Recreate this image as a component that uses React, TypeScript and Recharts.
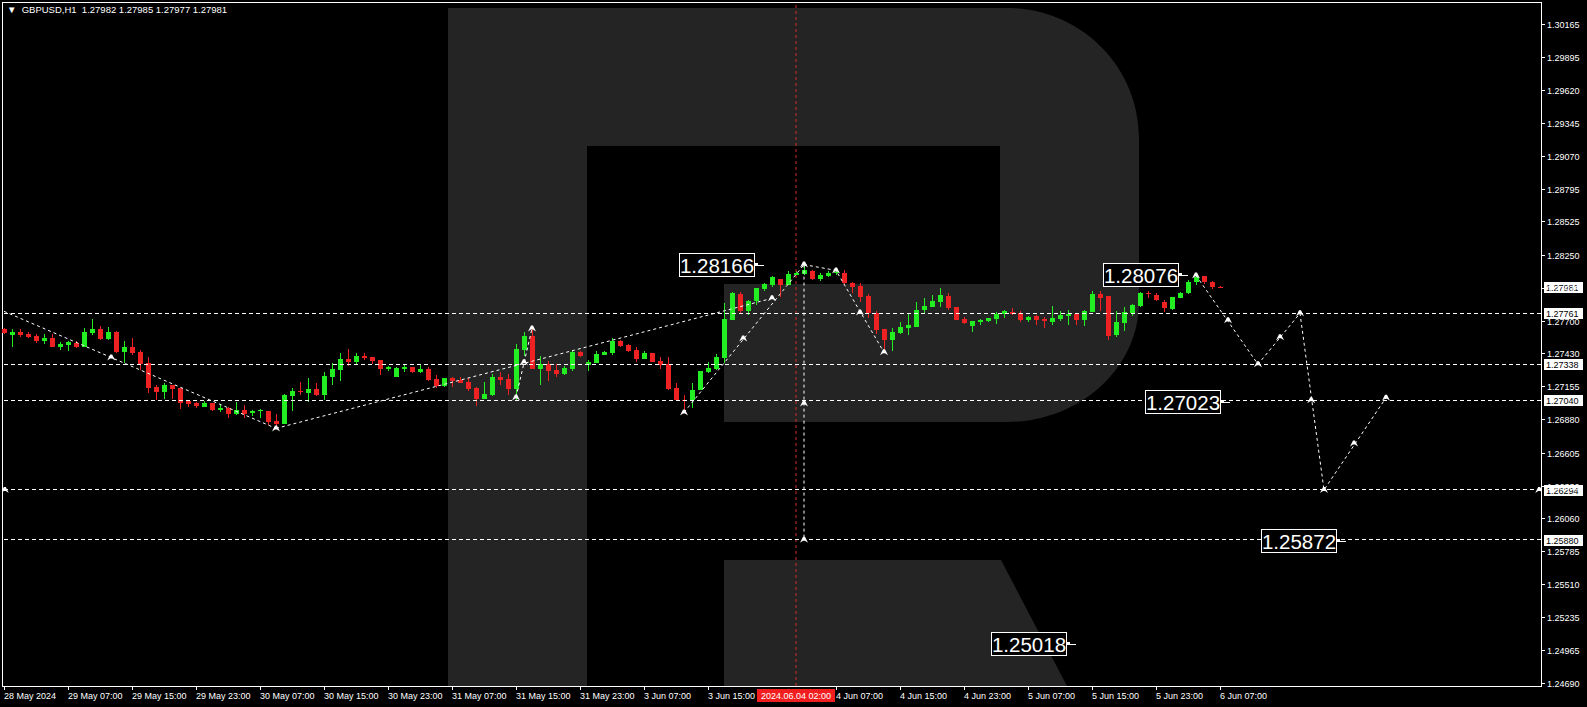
import React from 'react';
import {
    ComposedChart,
    Bar,
    Line,
    Scatter,
    XAxis,
    YAxis,
    ReferenceLine,
    ReferenceDot,
    ReferenceArea
} from 'recharts';

// GBPUSD H1, 28 May 23:00 .. 6 Jun 07:00 (index 0 = 28 May 23:00)
const opens = [
    1.27628, 1.27578, 1.27603, 1.27586, 1.27570, 1.27528, 1.27553, 1.27478, 1.27495, 1.27512,
    1.27478, 1.27595, 1.27628, 1.27545, 1.27603, 1.27437, 1.27478, 1.27437, 1.27346, 1.27146,
    1.27105, 1.27163, 1.27138, 1.27030, 1.27013, 1.26980, 1.27013, 1.26955, 1.26971, 1.26922,
    1.26955, 1.26930, 1.26947, 1.26947, 1.26863, 1.26838, 1.27071, 1.27113, 1.27096, 1.27129,
    1.27080, 1.27229, 1.27287, 1.27379, 1.27354, 1.27404, 1.27395, 1.27370, 1.27296, 1.27229,
    1.27296, 1.27312, 1.27271, 1.27296, 1.27213, 1.27154, 1.27221, 1.27204, 1.27188, 1.27138,
    1.27046, 1.27080, 1.27229, 1.27213, 1.27129, 1.27454, 1.27570, 1.27296, 1.27337, 1.27287,
    1.27254, 1.27296, 1.27437, 1.27329, 1.27346, 1.27412, 1.27429, 1.27528, 1.27495, 1.27454,
    1.27379, 1.27429, 1.27362, 1.27337, 1.27138, 1.27038, 1.27038, 1.27121, 1.27271, 1.27296,
    1.27387, 1.27703, 1.27919, 1.27778, 1.27861, 1.27960, 1.27994, 1.28044, 1.27994, 1.28077,
    1.28085, 1.28110, 1.28044, 1.28068, 1.28093, 1.28093, 1.28010, 1.27985, 1.27902, 1.27761,
    1.27628, 1.27537, 1.27595, 1.27636, 1.27645, 1.27786, 1.27811, 1.27852, 1.27902, 1.27811,
    1.27711, 1.27653, 1.27686, 1.27695, 1.27711, 1.27753, 1.27769, 1.27761, 1.27703, 1.27736,
    1.27711, 1.27686, 1.27711, 1.27736, 1.27753, 1.27703, 1.27769, 1.27919, 1.27902, 1.27578,
    1.27678, 1.27761, 1.27819, 1.27927, 1.27911, 1.27852, 1.27794, 1.27886, 1.27927, 1.28019,
    1.28068, 1.28019, 1.27982
];
const highs = [
    1.27636, 1.27628, 1.27628, 1.27603, 1.27586, 1.27586, 1.27586, 1.27520, 1.27528, 1.27528,
    1.27636, 1.27711, 1.27653, 1.27645, 1.27611, 1.27528, 1.27553, 1.27454, 1.27395, 1.27163,
    1.27179, 1.27163, 1.27138, 1.27038, 1.27021, 1.27030, 1.27013, 1.27005, 1.26980, 1.27021,
    1.26996, 1.26955, 1.26963, 1.26947, 1.26922, 1.27088, 1.27138, 1.27188, 1.27221, 1.27179,
    1.27271, 1.27346, 1.27429, 1.27462, 1.27429, 1.27429, 1.27395, 1.27370, 1.27321, 1.27312,
    1.27329, 1.27312, 1.27329, 1.27312, 1.27246, 1.27221, 1.27229, 1.27229, 1.27221, 1.27146,
    1.27188, 1.27254, 1.27271, 1.27254, 1.27503, 1.27603, 1.27653, 1.27404, 1.27362, 1.27337,
    1.27321, 1.27454, 1.27445, 1.27370, 1.27445, 1.27445, 1.27553, 1.27537, 1.27503, 1.27478,
    1.27445, 1.27429, 1.27395, 1.27395, 1.27179, 1.27080, 1.27179, 1.27279, 1.27354, 1.27420,
    1.27844, 1.27936, 1.27936, 1.27869, 1.27969, 1.28010, 1.28068, 1.28044, 1.28110, 1.28110,
    1.28166, 1.28118, 1.28093, 1.28110, 1.28118, 1.28118, 1.28019, 1.28010, 1.27919, 1.27778,
    1.27628, 1.27636, 1.27686, 1.27753, 1.27852, 1.27886, 1.27911, 1.27969, 1.27927, 1.27811,
    1.27728, 1.27695, 1.27711, 1.27719, 1.27769, 1.27786, 1.27803, 1.27778, 1.27736, 1.27744,
    1.27728, 1.27819, 1.27778, 1.27786, 1.27753, 1.27786, 1.27944, 1.27944, 1.27902, 1.27778,
    1.27811, 1.27836, 1.27936, 1.27944, 1.27927, 1.27869, 1.27894, 1.27936, 1.28035, 1.28076,
    1.28072, 1.28027, 1.27985
];
const lows = [
    1.27586, 1.27478, 1.27562, 1.27553, 1.27512, 1.27503, 1.27478, 1.27454, 1.27445, 1.27470,
    1.27478, 1.27578, 1.27537, 1.27537, 1.27429, 1.27346, 1.27412, 1.27287, 1.27096, 1.27038,
    1.27046, 1.27046, 1.26963, 1.26980, 1.26971, 1.26980, 1.26947, 1.26938, 1.26888, 1.26913,
    1.26888, 1.26905, 1.26888, 1.26830, 1.26805, 1.26838, 1.26947, 1.27080, 1.27021, 1.27071,
    1.27038, 1.27163, 1.27196, 1.27321, 1.27337, 1.27370, 1.27337, 1.27246, 1.27279, 1.27229,
    1.27271, 1.27262, 1.27262, 1.27196, 1.27138, 1.27146, 1.27146, 1.27179, 1.27113, 1.26988,
    1.27046, 1.27071, 1.27163, 1.27080, 1.27038, 1.27404, 1.27296, 1.27163, 1.27196, 1.27229,
    1.27246, 1.27279, 1.27395, 1.27279, 1.27346, 1.27412, 1.27412, 1.27478, 1.27437, 1.27354,
    1.27379, 1.27354, 1.27296, 1.27121, 1.27030, 1.26955, 1.26971, 1.27121, 1.27262, 1.27287,
    1.27346, 1.27703, 1.27761, 1.27744, 1.27827, 1.27944, 1.27977, 1.27894, 1.27994, 1.28077,
    1.28085, 1.28035, 1.28027, 1.28060, 1.28077, 1.28002, 1.27927, 1.27852, 1.27719, 1.27586,
    1.27437, 1.27445, 1.27586, 1.27578, 1.27645, 1.27753, 1.27811, 1.27811, 1.27786, 1.27703,
    1.27670, 1.27603, 1.27661, 1.27686, 1.27670, 1.27719, 1.27744, 1.27686, 1.27686, 1.27661,
    1.27636, 1.27661, 1.27695, 1.27661, 1.27661, 1.27653, 1.27769, 1.27778, 1.27537, 1.27562,
    1.27611, 1.27736, 1.27811, 1.27886, 1.27861, 1.27769, 1.27786, 1.27886, 1.27919, 1.27994,
    1.28002, 1.27960, 1.27977
];
const closes = [
    1.27595, 1.27603, 1.27578, 1.27562, 1.27528, 1.27553, 1.27478, 1.27503, 1.27520, 1.27478,
    1.27603, 1.27628, 1.27545, 1.27603, 1.27437, 1.27478, 1.27429, 1.27337, 1.27138, 1.27105,
    1.27163, 1.27129, 1.27013, 1.27005, 1.26988, 1.27013, 1.26955, 1.26971, 1.26922, 1.26955,
    1.26922, 1.26947, 1.26955, 1.26855, 1.26838, 1.27080, 1.27113, 1.27105, 1.27129, 1.27080,
    1.27237, 1.27296, 1.27379, 1.27354, 1.27404, 1.27387, 1.27362, 1.27296, 1.27312, 1.27304,
    1.27312, 1.27271, 1.27296, 1.27204, 1.27154, 1.27221, 1.27196, 1.27179, 1.27129, 1.27046,
    1.27088, 1.27229, 1.27204, 1.27129, 1.27462, 1.27570, 1.27296, 1.27337, 1.27279, 1.27254,
    1.27304, 1.27437, 1.27404, 1.27354, 1.27420, 1.27437, 1.27528, 1.27487, 1.27445, 1.27379,
    1.27429, 1.27354, 1.27329, 1.27129, 1.27038, 1.27030, 1.27121, 1.27279, 1.27304, 1.27395,
    1.27711, 1.27927, 1.27778, 1.27861, 1.27969, 1.28002, 1.28060, 1.27994, 1.28085, 1.28093,
    1.28118, 1.28044, 1.28077, 1.28093, 1.28102, 1.28010, 1.27977, 1.27894, 1.27761, 1.27620,
    1.27537, 1.27603, 1.27645, 1.27661, 1.27786, 1.27819, 1.27861, 1.27911, 1.27803, 1.27703,
    1.27678, 1.27695, 1.27703, 1.27719, 1.27753, 1.27778, 1.27753, 1.27703, 1.27728, 1.27703,
    1.27695, 1.27719, 1.27744, 1.27753, 1.27703, 1.27778, 1.27919, 1.27886, 1.27570, 1.27686,
    1.27769, 1.27827, 1.27927, 1.27919, 1.27869, 1.27803, 1.27894, 1.27927, 1.28019, 1.28060,
    1.28019, 1.27977, 1.27981
];

// x axis: bar index of each label
const xTickIdx = [0, 8, 16, 24, 32, 40, 48, 56, 64, 72, 80, 88, 104, 112, 120, 128, 136, 144, 152];
const xTickLabels = [
    '28 May 2024', '29 May 07:00', '29 May 15:00', '29 May 23:00', '30 May 07:00', '30 May 15:00',
    '30 May 23:00', '31 May 07:00', '31 May 15:00', '31 May 23:00', '3 Jun 07:00', '3 Jun 15:00',
    '4 Jun 07:00', '4 Jun 15:00', '4 Jun 23:00', '5 Jun 07:00', '5 Jun 15:00', '5 Jun 23:00', '6 Jun 07:00'
];
const yTicks = [
    1.30165, 1.29895, 1.29620, 1.29345, 1.29070, 1.28795, 1.28525, 1.28250, 1.27975, 1.27700, 1.27430,
    1.27155, 1.26880, 1.26605, 1.26330, 1.26060, 1.25785, 1.25510, 1.25235, 1.24965, 1.24690
];

// horizontal levels and last price
const levels = [1.27761, 1.27338, 1.27040, 1.26294, 1.25880];
const lastPrice = 1.27981;
const crossIdx = 99;
const crossLabel = '2024.06.04 02:00';

// analyst's wave lines (bar index, price)
const waveDown = [{ i: 0, p: 1.27778 }, { i: 34, p: 1.26805 }];
const waveUp = [{ i: 34, p: 1.26805 }, { i: 96, p: 1.27886 }];
const waveSpike = [{ i: 64, p: 1.27063 }, { i: 66, p: 1.27636 }];
const waveRally = [{ i: 85, p: 1.26938 }, { i: 100, p: 1.28166 }];
const waveTarget = [{ i: 100, p: 1.28166 }, { i: 100, p: 1.25880 }];
const waveDrop = [{ i: 100, p: 1.28166 }, { i: 104, p: 1.28118 }, { i: 110, p: 1.27437 }];
const forecast = [
    { i: 149, p: 1.28076 }, { i: 156.75, p: 1.27338 }, { i: 162, p: 1.27761 },
    { i: 165, p: 1.26294 }, { i: 172.75, p: 1.27060 }
];
const arrows = [
    { i: 13.4, p: 1.27395 }, { i: 34, p: 1.26805 }, { i: 64, p: 1.27063 }, { i: 65, p: 1.27354 },
    { i: 66, p: 1.27636 }, { i: 85, p: 1.26938 }, { i: 92.4, p: 1.27553 }, { i: 96, p: 1.27886 },
    { i: 100, p: 1.28166 }, { i: 104, p: 1.28118 }, { i: 107, p: 1.27769 }, { i: 110, p: 1.27437 },
    { i: 100, p: 1.27013 }, { i: 100, p: 1.25880 }, { i: 149, p: 1.28076 }, { i: 153, p: 1.27703 },
    { i: 156.75, p: 1.27338 }, { i: 159.5, p: 1.27562 }, { i: 162, p: 1.27761 }, { i: 163.4, p: 1.27040 },
    { i: 165, p: 1.26294 }, { i: 168.75, p: 1.26680 }, { i: 172.75, p: 1.27060 },
    { i: 0.1, p: 1.26294 }, { i: 191.9, p: 1.26294 }
];
const tags = [
    { i: 95, p: 1.28166 }, { i: 148, p: 1.28076 }, { i: 153.25, p: 1.27023 },
    { i: 167.75, p: 1.25872 }, { i: 134, p: 1.25018 }
];

const X_MIN = -0.25;
const X_MAX = 192.125;
const Y_MIN = 1.246651;
const Y_MAX = 1.303478;

const GREEN = '#22ee22';
const RED = '#ee2222';
const FONT = '"Liberation Sans", Arial, sans-serif';

const candles = opens.map((o, i) => ({
    i,
    o,
    h: highs[i],
    l: lows[i],
    c: closes[i],
    range: [lows[i], highs[i]]
}));

const Candle = (props: any) => {
    const { x, y, width, height, payload } = props;
    if (x == null || y == null) return null;
    const cx = Math.round(x + width / 2);
    const top = Math.min(y, y + height);
    const span = Math.abs(height);
    const { o, h, l, c } = payload;
    const k = h - l > 0 ? span / (h - l) : 0;
    const yO = top + (h - o) * k;
    const yC = top + (h - c) * k;
    const col = c >= o ? GREEN : RED;
    const bTop = Math.round(Math.min(yO, yC));
    const bH = Math.max(1, Math.round(Math.abs(yC - yO)));
    return (
        <g shapeRendering="crispEdges">
            <rect x={cx} y={Math.round(top)} width={1} height={Math.max(1, Math.round(span))} fill={col} />
            <rect x={cx - 2} y={bTop} width={5} height={bH} fill={col} />
        </g>
    );
};

const XTick = (props: any) => {
    const { x, y, payload } = props;
    const k = xTickIdx.indexOf(payload.value);
    if (k < 0) return null;
    const px = Math.round(x);
    return (
        <g>
            <rect x={px} y={y} width={1} height={4} fill="#fff" shapeRendering="crispEdges" />
            <text x={px} y={y + 13} fill="#fff" fontSize={9} fontFamily={FONT}>{xTickLabels[k]}</text>
        </g>
    );
};

const YTick = (props: any) => {
    const { x, y, payload } = props;
    const py = Math.round(y);
    return (
        <g>
            <rect x={x} y={py} width={4} height={1} fill="#fff" shapeRendering="crispEdges" />
            <text x={x + 6} y={py + 4} fill="#fff" fontSize={9} fontFamily={FONT}>{payload.value.toFixed(5)}</text>
        </g>
    );
};

const AxisBox = (props: any) => {
    const { cx, cy, value } = props;
    const py = Math.round(cy);
    return (
        <g>
            <rect x={cx + 3} y={py - 5} width={39} height={11} fill="#fff" shapeRendering="crispEdges" />
            <text x={cx + 5} y={py + 4} fill="#000" fontSize={9} fontFamily={FONT}>{value.toFixed(5)}</text>
        </g>
    );
};

const PriceTag = (props: any) => {
    const { cx, cy, value } = props;
    const r = Math.round(cx) - 10;
    const py = Math.round(cy);
    return (
        <g shapeRendering="crispEdges">
            <rect x={r - 75 + 0.5} y={py - 12 + 0.5} width={75} height={23} fill="#000" stroke="#fff" />
            <text x={r - 37} y={py + 8} fill="#fff" fontSize={20.5} fontFamily={FONT} textAnchor="middle">{value.toFixed(5)}</text>
            <rect x={r + 1} y={py - 2} width={3} height={3} fill="#fff" />
            <rect x={r + 1} y={py} width={9} height={1} fill="#fff" />
        </g>
    );
};

const Arrow = (props: any) => {
    const { cx, cy } = props;
    if (cx == null || cy == null) return null;
    return (
        <path
            d={`M${cx - 4},${cy + 3} L${cx - 1},${cy - 3} L${cx + 1},${cy - 3} L${cx + 4},${cy + 3} L${cx + 1},${cy + 1} L${cx - 1},${cy + 1} Z`}
            fill="#fff"
        />
    );
};

const TimeBox = (props: any) => {
    const vb = props.viewBox || {};
    const cx = vb.x;
    const by = vb.y + vb.height;
    return (
        <g>
            <rect x={cx - 39} y={by + 3} width={78} height={13} fill="#f01e1e" shapeRendering="crispEdges" />
            <text x={cx} y={by + 13} fill="#fff" fontSize={9} fontFamily={FONT} textAnchor="middle">{crossLabel}</text>
        </g>
    );
};

const waveStyle = { stroke: '#fff', strokeWidth: 1, strokeDasharray: '3 3' };

const App: React.FC = () => {
    return (
        <div style={{ position: 'fixed', left: 0, top: 0, width: 1587, height: 707, background: '#000', overflow: 'hidden' }}>
            <svg width={1587} height={707} style={{ position: 'absolute', left: 0, top: 0 }}>
                <path
                    d="M448,8 L1007,8 C1080,8 1139,66 1139,138 L1139,302 C1139,368 1080,422 1007,422 L724,422 L724,284 L1000,284 L1000,146 L587,146 L587,686 L448,686 Z"
                    fill="#242424"
                />
                <path d="M724,560 L1001,560 L1067,686 L724,686 Z" fill="#242424" />
            </svg>
            <div style={{ position: 'absolute', left: 0, top: 0 }}>
                <ComposedChart width={1587} height={707} data={candles} margin={{ top: 2, right: 0, bottom: 0, left: 2 }}>
                    <XAxis
                        dataKey="i"
                        type="number"
                        domain={[X_MIN, X_MAX]}
                        allowDataOverflow
                        ticks={xTickIdx}
                        tick={<XTick />}
                        tickLine={false}
                        tickSize={0}
                        tickMargin={0}
                        height={21}
                        axisLine={{ stroke: '#fff', shapeRendering: 'crispEdges' }}
                        interval={0}
                    />
                    <YAxis
                        orientation="right"
                        type="number"
                        domain={[Y_MIN, Y_MAX]}
                        allowDataOverflow
                        ticks={yTicks}
                        tick={<YTick />}
                        tickLine={false}
                        tickSize={0}
                        tickMargin={0}
                        width={46}
                        axisLine={{ stroke: '#fff', shapeRendering: 'crispEdges' }}
                        interval={0}
                    />
                    <ReferenceArea
                        x1={X_MIN}
                        x2={X_MAX}
                        y1={Y_MIN}
                        y2={Y_MAX}
                        fill="none"
                        stroke="#fff"
                        shapeRendering="crispEdges"
                        ifOverflow="visible"
                    />
                    <ReferenceLine
                        x={crossIdx}
                        stroke="#d42a2a"
                        strokeDasharray="3 3"
                        label={<TimeBox />}
                    />
                    {levels.map((v) => (
                        <ReferenceLine key={v} y={v} stroke="#fff" strokeDasharray="4 3" shapeRendering="crispEdges" />
                    ))}
                    <Bar dataKey="range" barSize={5} shape={<Candle />} isAnimationActive={false} />
                    <Line data={waveDown} dataKey="p" {...waveStyle} dot={false} isAnimationActive={false} />
                    <Line data={waveUp} dataKey="p" {...waveStyle} dot={false} isAnimationActive={false} />
                    <Line data={waveSpike} dataKey="p" {...waveStyle} dot={false} isAnimationActive={false} />
                    <Line data={waveRally} dataKey="p" {...waveStyle} dot={false} isAnimationActive={false} />
                    <Line data={waveTarget} dataKey="p" {...waveStyle} dot={false} isAnimationActive={false} />
                    <Line data={waveDrop} dataKey="p" {...waveStyle} dot={false} isAnimationActive={false} />
                    <Line data={forecast} dataKey="p" {...waveStyle} dot={false} isAnimationActive={false} />
                    <Scatter data={arrows} dataKey="p" shape={<Arrow />} isAnimationActive={false} />
                    {tags.map((t) => (
                        <ReferenceDot
                            key={t.p}
                            x={t.i}
                            y={t.p}
                            ifOverflow="visible"
                            shape={(p: any) => <PriceTag cx={p.cx} cy={p.cy} value={t.p} />}
                        />
                    ))}
                    {[...levels, lastPrice].map((v) => (
                        <ReferenceDot
                            key={'ax' + v}
                            x={X_MAX}
                            y={v}
                            ifOverflow="visible"
                            shape={(p: any) => <AxisBox cx={p.cx} cy={p.cy} value={v} />}
                        />
                    ))}
                </ComposedChart>
            </div>
            <div
                style={{
                    position: 'absolute',
                    left: 7,
                    top: 4,
                    color: '#fff',
                    fontFamily: FONT,
                    fontSize: 9.5,
                    whiteSpace: 'pre',
                    lineHeight: '11px'
                }}
            >
                {'\u25BC  GBPUSD,H1  1.27982 1.27985 1.27977 1.27981'}
            </div>
        </div>
    );
};

export default App;
